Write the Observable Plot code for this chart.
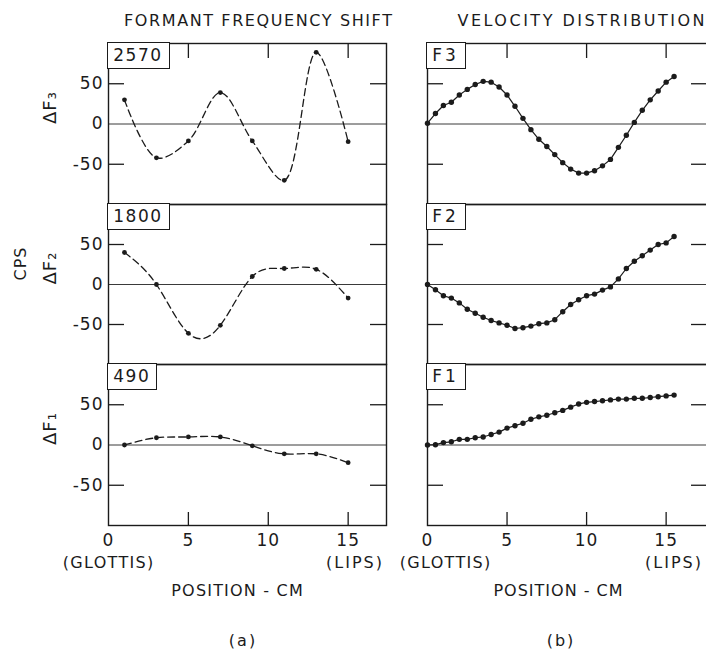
<!DOCTYPE html>
<html>
<head>
<meta charset="utf-8">
<script src="https://cdn.jsdelivr.net/npm/d3@7"></script>
<script src="https://cdn.jsdelivr.net/npm/@observablehq/plot@0.6"></script>
<style>
  body { margin: 0; background: #fff; }
  #fig { position: relative; width: 706px; height: 654px; overflow: hidden; background: #fff;
         font-family: "DejaVu Sans", sans-serif; color: #1b1b1b; }
  #fig svg { position: absolute; overflow: visible; }
  #fig svg text { letter-spacing: 1px; }
  .lbl { position: absolute; text-align: center; white-space: pre; }
  .box { position: absolute; border: 1.4px solid #1b1b1b; background: #fff; font-size: 17px;
         line-height: 25px; padding: 0 6px 0 5px; white-space: pre; }
</style>
</head>
<body>
<div id="fig"></div>
<script>
// ---------- data ----------
const positionsA = [1, 3, 5, 7, 9, 11, 13, 15];
const shiftF3 = [30, -42, -21, 39, -21, -70, 89, -22];
const shiftF2 = [40, 0, -61, -51, 10, 20, 19, -17];
const shiftF1 = [0, 9, 10, 10, -1, -11, -11, -22];

const positionsB = [0, 0.5, 1, 1.5, 2, 2.5, 3, 3.5, 4, 4.5, 5, 5.5, 6, 6.5, 7, 7.5,
                    8, 8.5, 9, 9.5, 10, 10.5, 11, 11.5, 12, 12.5, 13, 13.5, 14, 14.5, 15, 15.5];
const velF3 = [1, 13, 23, 27, 36, 43, 49, 53, 52, 46, 36, 22, 7, -7, -19, -28,
               -38, -48, -56, -61, -61, -58, -52, -44, -29, -14, 2, 17, 30, 41, 52, 59];
const velF2 = [0, -6.5, -14, -17, -23, -31, -36, -41, -45, -48, -51, -55, -54, -52, -49, -48,
               -44, -34, -25, -19, -14, -12, -7, -3, 7, 20, 29, 36, 43, 50, 52, 60];
const velF1 = [0, 0.4, 3, 4, 7, 7, 9, 10, 13, 16, 21, 24, 27, 32, 35, 37,
               40, 43, 47, 51, 53, 54, 55, 56, 57, 57, 58, 58, 59, 60, 61, 62];

const yTickMarks = [-50, 50];
const yTickLabels = [50, 0, -50];
const xTickMarks = [5, 10, 15];
const xTickLabels = [0, 5, 10, 15];
const boxLabelsA = ["2570", "1800", "490"];
const boxLabelsB = ["F3", "F2", "F1"];
const yAxisLabels = ["ΔF₃", "ΔF₂", "ΔF₁"];
const unitLabel = "CPS";
const titles = ["FORMANT FREQUENCY SHIFT", "VELOCITY DISTRIBUTION"];
const endLabels = ["(GLOTTIS)", "(LIPS)"];
const axisTitle = "POSITION - CM";
const panelTags = ["(a)", "(b)"];

// ---------- layout ----------
const ink = "#1b1b1b";
const fig = document.getElementById("fig");
const cols = {
  a: {left: 0, width: 400, ml: 108, mr: 14, xDomain: [0, 17.4]},
  b: {left: 400, width: 310, ml: 27, mr: 3, xDomain: [0, 17.6]}
};
const rows = [
  {top: 0, height: 204, mt: 43, mb: 0, curve: "catmull-rom"},
  {top: 204, height: 160, mt: 0, mb: 0, curve: "natural"},
  {top: 364, height: 290, mt: 0, mb: 129, curve: "natural"}
];
const fmt = d => d < 0 ? "-" + Math.abs(d) : String(d);

function makePanel(col, r, xs, values) {
  const C = cols[col], R = rows[r];
  const fw = C.width - C.ml - C.mr, fh = R.height - R.mt - R.mb;
  const data = xs.map((x, i) => ({x, v: values[i]}));
  const marks = [
    Plot.ruleY([0], {stroke: "#3a3a3a", strokeWidth: 1}),
    Plot.tickY(yTickMarks, {stroke: ink, strokeWidth: 1.3, insetRight: fw - 16}),
    Plot.tickY(yTickMarks, {stroke: ink, strokeWidth: 1.3, insetLeft: fw - 16})
  ];
  if (r === 0) marks.push(Plot.tickX(xTickMarks, {stroke: ink, strokeWidth: 1.3, insetBottom: fh - 15}));
  if (r === 2) {
    marks.push(Plot.tickX(xTickMarks, {stroke: ink, strokeWidth: 1.3, insetTop: fh - 13}));
    marks.push(Plot.axisX(xTickLabels, {tickSize: 0, tickPadding: 8, fontSize: 17, fill: ink, label: null, tickFormat: d => String(d)}));
  }
  if (col === "a") {
    marks.push(Plot.axisY(yTickLabels, {tickSize: 0, tickPadding: 5, fontSize: 17, fill: ink, label: null, tickFormat: fmt}));
    marks.push(Plot.text([yAxisLabels[r]], {frameAnchor: "left", dx: -58, rotate: -90, fontSize: 18, fill: ink}));
    if (r === 1) marks.push(Plot.text([unitLabel], {frameAnchor: "left", dx: -88, dy: -4, rotate: -90, fontSize: 16, fill: ink}));
    marks.push(Plot.line(data, {x: "x", y: "v", curve: R.curve, stroke: ink, strokeWidth: 1.3, strokeDasharray: "7,4"}));
    marks.push(Plot.dot(data, {x: "x", y: "v", r: 2.4, fill: ink}));
  } else {
    marks.push(Plot.line(data, {x: "x", y: "v", stroke: ink, strokeWidth: 1.2}));
    marks.push(Plot.dot(data, {x: "x", y: "v", r: 2.7, fill: ink}));
  }
  marks.push(Plot.frame({stroke: ink, strokeWidth: 1.4}));

  const svg = Plot.plot({
    width: C.width, height: R.height,
    marginLeft: C.ml, marginRight: C.mr, marginTop: R.mt, marginBottom: R.mb,
    x: {domain: C.xDomain, axis: null, label: null},
    y: {domain: [-100, 100], axis: null, label: null},
    style: {background: "transparent", overflow: "visible", fontFamily: '"DejaVu Sans", sans-serif', fontSize: "17px", color: ink},
    marks
  });
  svg.style.left = C.left + "px";
  svg.style.top = R.top + "px";
  fig.appendChild(svg);

  // boxed panel tag in the top-left corner
  const b = document.createElement("div");
  b.className = "box";
  b.textContent = (col === "a" ? boxLabelsA : boxLabelsB)[r];
  b.style.letterSpacing = col === "a" ? "1.5px" : "3px";
  b.style.left = (C.left + C.ml - 0.7) + "px";
  b.style.top = (R.top + R.mt - 0.7) + "px";
  fig.appendChild(b);
}

makePanel("a", 0, positionsA, shiftF3);
makePanel("a", 1, positionsA, shiftF2);
makePanel("a", 2, positionsA, shiftF1);
makePanel("b", 0, positionsB, velF3);
makePanel("b", 1, positionsB, velF2);
makePanel("b", 2, positionsB, velF1);

function label(text, cx, cy, size, spacing) {
  const d = document.createElement("div");
  d.className = "lbl";
  d.textContent = text;
  Object.assign(d.style, {
    left: (cx - 200) + "px", width: "400px", top: (cy - 0.48 * size) + "px",
    fontSize: size + "px", lineHeight: size + "px", letterSpacing: spacing + "px",
    paddingLeft: spacing + "px", boxSizing: "border-box"
  });
  fig.appendChild(d);
}
label(titles[0], 258, 21, 16, 1.6);
label(titles[1], 581, 21, 16, 2.5);
label(endLabels[0], 108, 563, 16, 1.3);
label(endLabels[1], 354, 563, 16, 2);
label(endLabels[0], 445, 563, 16, 1.3);
label(endLabels[1], 673, 563, 16, 2);
label(axisTitle, 237, 591, 16, 1.2);
label(axisTitle, 558, 591, 16, 1.0);
label(panelTags[0], 242, 641, 16, 2);
label(panelTags[1], 560, 641, 16, 2);
</script>
</body>
</html>
